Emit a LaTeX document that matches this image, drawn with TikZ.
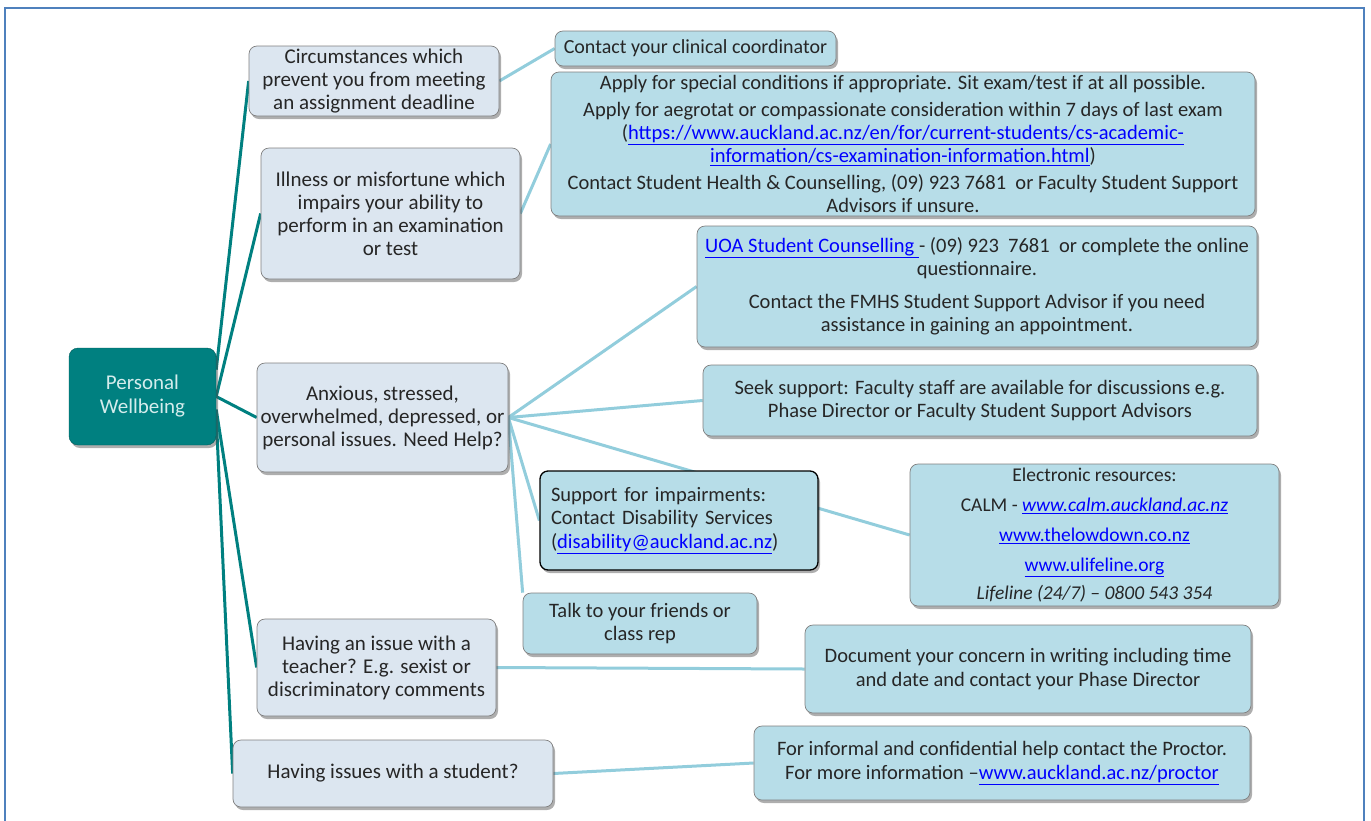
\documentclass[tikz,border=0pt]{standalone}
\usepackage{fontspec}
\setmainfont{Carlito}
\usetikzlibrary{shadows, backgrounds}
\definecolor{rootteal}{HTML}{008080}
\definecolor{rootlabel}{HTML}{D4ECEC}
\definecolor{leftfill}{HTML}{DCE6F0}
\definecolor{rightfill}{HTML}{B7DDE8}
\definecolor{twigblue}{HTML}{92CDDC}
\definecolor{boxgray}{HTML}{7F7F7F}
\definecolor{txtgray}{HTML}{262626}
\definecolor{linkblue}{HTML}{0000FF}
\definecolor{frameblue}{HTML}{4F81BD}
\newcommand{\lnk}[1]{\textcolor{linkblue}{\underline{#1}}}

\begin{document}
\begin{tikzpicture}[x=1pt, y=-1pt,
	every node/.style={text=txtgray},
	boxshadow/.style={drop shadow={shadow xshift=2pt, shadow yshift=-3pt, opacity=0.45, fill=black!70}},
	rootbox/.style={draw=rootteal!70!black, fill=rootteal, rounded corners=9pt, text=rootlabel, align=center, font=\fontsize{21}{24}\selectfont, boxshadow},
	leftbox/.style={draw=boxgray, line width=0.7pt, fill=leftfill, rounded corners=8pt, align=center, inner sep=2pt, font=\fontsize{21}{23}\selectfont, boxshadow},
	rightbox/.style={draw=boxgray, line width=0.7pt, fill=rightfill, rounded corners=8pt, align=center, inner sep=2pt, font=\fontsize{20.5}{23.5}\selectfont, boxshadow},
	trunk/.style={draw=rootteal, line width=3pt},
	twig/.style={draw=twigblue, line width=3pt}]
		\useasboundingbox (0,0) rectangle (1371,820);
		\draw[frameblue, line width=1.5pt] (5,840) -- (5,8) -- (1364,8) -- (1364,840);

		% root and questions
		\node[rootbox, minimum width=147pt, minimum height=97pt] (pw) at (142.5,396.5) {Personal\\Wellbeing};
		\node[leftbox, minimum width=250pt, minimum height=70pt] (deadline) at (374,81) {Circumstances which\\prevent you from meeting\\an assignment deadline};
		\node[leftbox, minimum width=259pt, minimum height=131pt] (illness) at (390.5,213.5) {Illness or misfortune which\\impairs your ability to\\perform in an examination\\or test};
		\node[leftbox, minimum width=251pt, minimum height=109pt] (anxious) at (382.5,417.5) {Anxious, stressed,\\overwhelmed, depressed, or\\personal issues. Need Help?};
		\node[leftbox, minimum width=239pt, minimum height=97pt] (teacher) at (376.5,667.5) {Having an issue with a\\teacher? E.g. sexist or\\discriminatory comments};
		\node[leftbox, minimum width=320pt, minimum height=67pt] (student) at (393,773.5) {Having issues with a student?};

		% answers
		\node[rightbox, minimum width=281pt, minimum height=35pt, font=\fontsize{20}{23}\selectfont] (coord) at (695.5,48.5) {Contact your clinical coordinator};
		\node[rightbox, minimum width=704pt, minimum height=144pt, inner sep=0pt, font=\fontsize{20.5}{23}\selectfont] (exam) at (903,144) {Apply for special conditions if appropriate. Sit exam/test if at all possible.\\[4pt]
			Apply for aegrotat or compassionate consideration within 7 days of last exam\\
			(\lnk{https://www.auckland.ac.nz/en/for/current-students/cs-academic-}\\
			\lnk{information/cs-examination-information.html})\\[4pt]
			Contact Student Health \& Counselling, (09) 923 7681\ \ or\ Faculty Student Support\\
			Advisors if unsure.};
		\node[rightbox, minimum width=560pt, minimum height=121pt] (uoa) at (977,286.5) {\lnk{UOA Student Counselling }- (09) 923\ \ 7681\ \ or complete the online\\
			questionnaire.\\[9pt]
			Contact the FMHS Student Support Advisor if you need\\
			assistance in gaining an appointment.};
		\node[rightbox, minimum width=554pt, minimum height=71pt] (faculty) at (980,400.5) {Seek support: Faculty staff are available for discussions e.g.\\Phase Director or Faculty Student Support Advisors};
		\node[rightbox, draw=black, line width=1.3pt, align=left, minimum width=278pt, minimum height=99pt, text width=256pt] (disab) at (679,520.5) {Support for impairments:\\Contact Disability Services\\(\lnk{disability@auckland.ac.nz})};
		\node[rightbox, minimum width=369pt, minimum height=142pt, font=\fontsize{19.5}{22}\selectfont] (eres) at (1094.5,535) {Electronic resources:\\[8pt]
			CALM - \textit{\lnk{www.calm.auckland.ac.nz}}\\[8pt]
			\lnk{www.thelowdown.co.nz}\\[8pt]
			\lnk{www.ulifeline.org}\\[6pt]
			\textit{Lifeline (24/7) -- 0800 543 354}};
		\node[rightbox, minimum width=234pt, minimum height=61pt] (friends) at (640,623.5) {Talk to your friends or\\class rep};
		\node[rightbox, minimum width=446pt, minimum height=88pt] (concern) at (1028,669) {Document your concern in writing including time\\and date and contact your Phase Director};
		\node[rightbox, minimum width=496pt, minimum height=74pt] (proctor) at (1002,763) {For informal and confidential help contact the Proctor.\\For more information --\lnk{www.auckland.ac.nz/proctor}};

		\begin{pgfonlayer}{background}
			\draw[trunk] (pw.20) -- (deadline.west);
			\draw[trunk] (pw.east) -- (illness.west);
			\draw[trunk] (pw.east) -- (anxious.west);
			\draw[trunk] (pw.-10) -- (teacher.west);
			\draw[trunk] (pw.-15) -- (student.west);

			\draw[twig] (deadline.east) -- (coord.west);
			\draw[twig] (illness.east) -- (exam.west);
			\draw[twig] (anxious.east) -- (uoa.west);
			\draw[twig] (anxious.east) -- (faculty.west);
			\draw[twig] (anxious.east) -- (eres.west);
			\draw[twig] (anxious.east) -- (disab.west);
			\draw[twig] (anxious.east) -- (friends.north west);
			\draw[twig] (teacher.east) -- (concern.west);
			\draw[twig] (student.east) -- (proctor.west);
		\end{pgfonlayer}
	\end{tikzpicture}
\end{document}
